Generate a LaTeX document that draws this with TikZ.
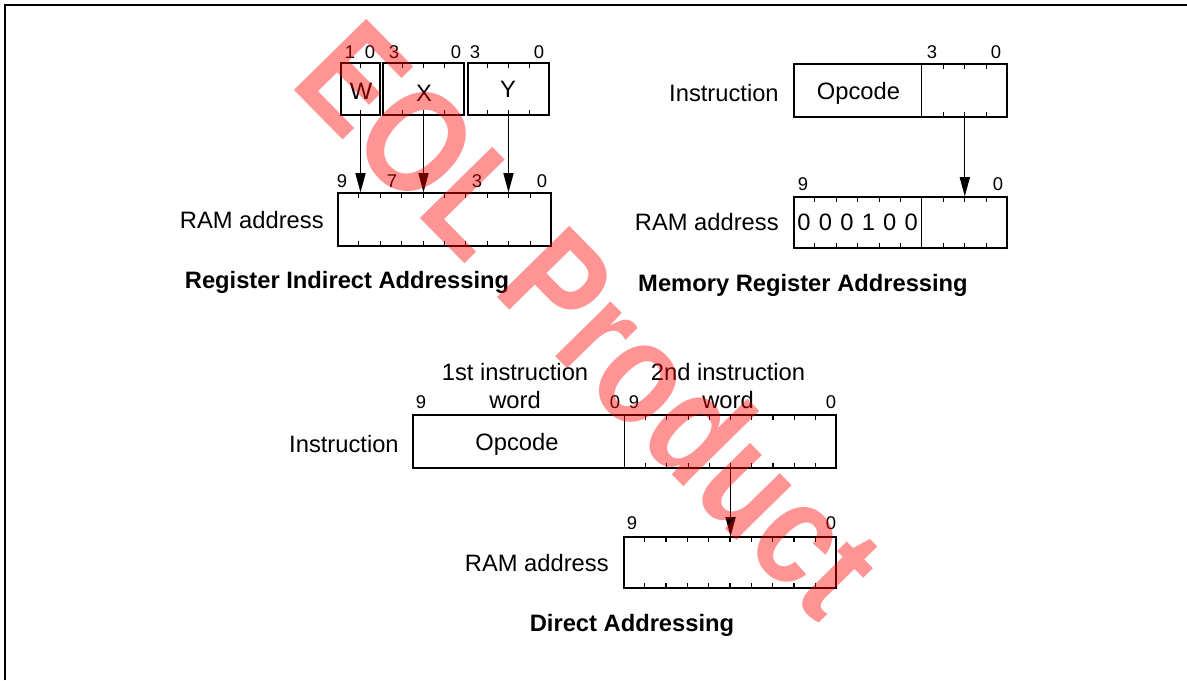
\documentclass[tikz,border=0pt]{standalone}
\usepackage{fontspec}
\setmainfont{Liberation Sans}
\usetikzlibrary{fit,calc,arrows.meta}
\newcommand\regticks[3]{%
  \foreach \i in {#3}{%
    \draw[tk] ($(#1.north west)!\i/#2!(#1.north east)$) -- ++(0,6);
    \draw[tk] ($(#1.south west)!\i/#2!(#1.south east)$) -- ++(0,-6);
  }}
\newcommand\regdiv[2]{%
  \draw[tk] ($(#1.north west)!#2!(#1.north east)$) -- ($(#1.south west)!#2!(#1.south east)$);}
\begin{document}
\begin{tikzpicture}[x=0.02cm,y=-0.02cm,
  reg/.style={draw,line width=0.75pt,inner sep=0pt},
  tk/.style={line width=0.6pt},
  lbl/.style={font=\fontsize{13.5}{16}\selectfont,inner sep=0pt},
  bitn/.style={font=\fontsize{10.5}{12}\selectfont,inner sep=0pt},
  ttl/.style={font=\fontsize{13.5}{16}\selectfont\bfseries,inner sep=0pt},
  arr/.style={-{Triangle[length=11pt,width=5.8pt]},line width=0.6pt},
  frame/.style={line width=0.9pt},
  wm/.style={font=\fontsize{84}{88}\selectfont\bfseries,text=red,text opacity=0.42,inner sep=0pt,rotate=-45.5,xscale=0.84}]
\useasboundingbox (0,0) rectangle (1187,680);
\draw[frame] (5,680) -- (5,5) -- (1187,5);

% ---------- Register Indirect Addressing
\node[reg,fit={(341,63) (380,115)}] (wb) {};
\node[reg,fit={(383,63) (464,115)}] (xb) {};
\node[reg,fit={(468,63) (549,115)}] (yb) {};
\regticks{wb}{2}{1}
\regticks{xb}{4}{1,2,3}
\regticks{yb}{4}{1,2,3}
\node[lbl,anchor=base] (wl) at (361,99) {W};
\node[lbl,anchor=base] (xl) at (424,101) {X};
\node[lbl,anchor=base] (yl) at (508,97) {Y};
\node[bitn] (w1) at (350,52) {1};
\node[bitn] (w0) at (370,52) {0};
\node[bitn] (x3) at (394,52) {3};
\node[bitn] (x0) at (456,52) {0};
\node[bitn] (y3) at (475,52) {3};
\node[bitn] (y0) at (539,52) {0};
\node[reg,fit={(338,193) (551,246)}] (ram1) {};
\regticks{ram1}{10}{1,2,3,4,5,6,7,8,9}
\node[bitn] (r19) at (342,181) {9};
\node[bitn] (r17) at (392,181) {7};
\node[bitn] (r13) at (477,181) {3};
\node[bitn] (r10) at (542,181) {0};
\node[lbl,anchor=east] (ramlbl1) at (324,220) {RAM address};
\draw[arr] (wb.south) -- (wb.south |- ram1.north);
\draw[arr] (xb.south) -- (xb.south |- ram1.north);
\draw[arr] (yb.south) -- (yb.south |- ram1.north);
\node[ttl] (t1) at (347,282) {Register Indirect Addressing};

% ---------- Memory Register Addressing
\node[reg,fit={(794,64) (1007,117)}] (ins2) {};
\regdiv{ins2}{0.6}
\regticks{ins2}{10}{7,8,9}
\node[lbl,anchor=base] (op2) at (858.5,99) {Opcode};
\node[bitn] (i23) at (932,52) {3};
\node[bitn] (i20) at (996,52) {0};
\node[lbl,anchor=east] (inslbl2) at (779,93) {Instruction};
\node[reg,fit={(794,197) (1007,248)}] (ram2) {};
\regdiv{ram2}{0.6}
\regticks{ram2}{10}{1,2,3,4,5,7,8,9}
\foreach \d [count=\k from 0] in {0,0,0,1,0,0}{
  \node[lbl] (dg\k) at ($(ram2.west)!{(\k+0.5)/10}!(ram2.east)$) {\d};
}
\node[bitn] (r29) at (803,184) {9};
\node[bitn] (r20) at (998,184) {0};
\node[lbl,anchor=east] (ramlbl2) at (779,222) {RAM address};
\coordinate (s2) at ($(ins2.south west)!0.8!(ins2.south east)$);
\draw[arr] (s2) -- (s2 |- ram2.north);
\node[ttl] (t2) at (803,285) {Memory Register Addressing};

% ---------- Direct Addressing
\node[lbl,align=center,font=\fontsize{13.5}{15.5}\selectfont] (w1st) at (515,386) {1st instruction\\word};
\node[lbl,align=center,font=\fontsize{13.5}{15.5}\selectfont] (w2nd) at (728,386) {2nd instruction\\word};
\node[reg,fit={(413,415) (836,468)}] (ins3) {};
\regdiv{ins3}{0.5}
\regticks{ins3}{20}{11,12,13,14,15,16,17,18,19}
\node[lbl,anchor=base] (op3) at (517,450) {Opcode};
\node[bitn] (i39a) at (421,402) {9};
\node[bitn] (i30a) at (615,402) {0};
\node[bitn] (i39b) at (634,402) {9};
\node[bitn] (i30b) at (831,402) {0};
\node[lbl,anchor=east] (inslbl3) at (399,444) {Instruction};
\node[reg,fit={(624,537) (836,588)}] (ram3) {};
\regticks{ram3}{10}{1,2,3,4,5,6,7,8,9}
\node[bitn] (r39) at (632,523) {9};
\node[bitn] (r30) at (831,523) {0};
\node[lbl,anchor=east] (ramlbl3) at (609,563) {RAM address};
\coordinate (s3) at ($(ins3.south west)!0.75!(ins3.south east)$);
\draw[arr] (s3) -- (s3 |- ram3.north);
\node[ttl] (t3) at (632,625) {Direct Addressing};

% ---------- watermark
\node[wm] (wmark) at (592,318) {EOL Product};
\end{tikzpicture}
\end{document}
